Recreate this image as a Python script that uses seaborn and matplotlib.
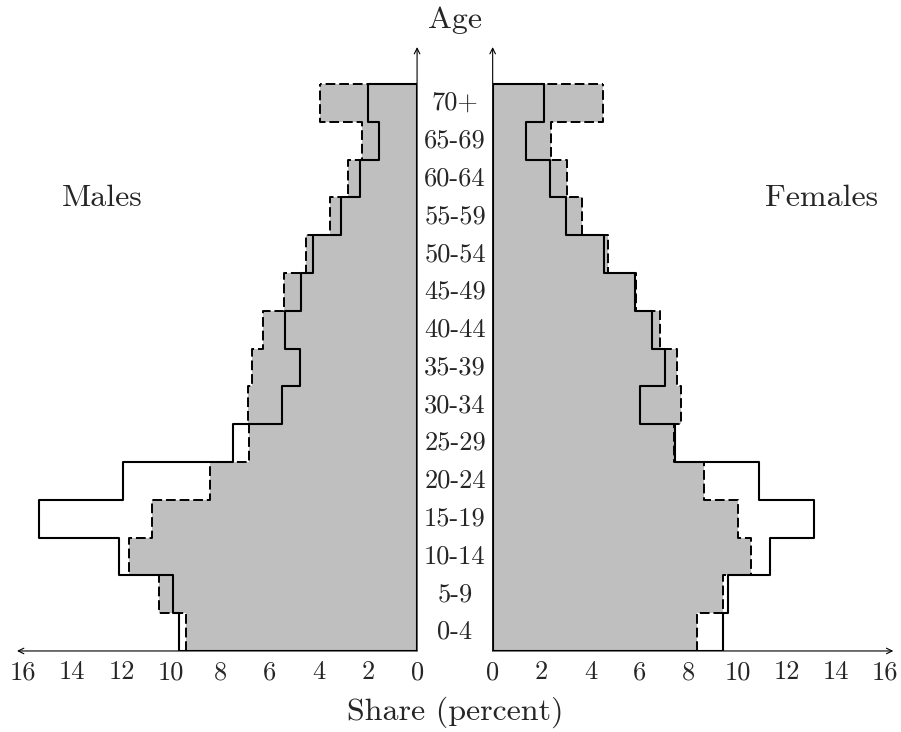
import numpy as np
import pandas as pd
import matplotlib
matplotlib.use("Agg")
import matplotlib.pyplot as plt
import matplotlib.transforms as mtransforms
import seaborn as sns

# age groups, bottom to top
age_groups = ["0-4", "5-9", "10-14", "15-19", "20-24", "25-29", "30-34",
              "35-39", "40-44", "45-49", "50-54", "55-59", "60-64", "65-69", "70+"]

# shaded series (dashed outline)
males_shaded = [9.38, 10.47, 11.70, 10.75, 8.41, 6.81, 6.87, 6.71, 6.24, 5.40,
                4.53, 3.55, 2.82, 2.24, 3.93]
females_shaded = [8.35, 9.39, 10.53, 10.02, 8.64, 7.40, 7.67, 7.51, 6.83, 5.84,
                  4.72, 3.63, 3.02, 2.37, 4.49]

# outline series (solid)
males_outline = [9.67, 9.90, 12.11, 15.35, 11.93, 7.46, 5.47, 4.75, 5.36, 4.71,
                 4.24, 3.09, 2.31, 1.56, 2.01]
females_outline = [9.39, 9.59, 11.32, 13.10, 10.88, 7.45, 6.01, 7.02, 6.52, 5.81,
                   4.56, 2.99, 2.34, 1.35, 2.11]

xticks = [0, 2, 4, 6, 8, 10, 12, 14, 16]

sns.set_style("white")
plt.rcParams["font.family"] = ["cmr10", "DejaVu Serif"]
plt.rcParams["axes.formatter.use_mathtext"] = True

FS = 19      # tick and age labels
FS_L = 23    # titles
GRAY = "#bfbfbf"
DASH = (0, (5, 2))

n = len(age_groups)
centers = np.arange(n) + 0.5

fig = plt.figure(figsize=(9.01, 7.32), dpi=100)
ax_m = fig.add_axes([0.0189, 0.1107, 0.4440, 0.8250])
ax_f = fig.add_axes([0.5468, 0.1107, 0.4446, 0.8250])

ytop = 15.98


def draw_side(ax, shaded, outline):
    df = pd.DataFrame({"age": centers, "shaded": shaded, "outline": outline})
    hist_kws = dict(data=df, y="age", binwidth=1, binrange=(0, n),
                    element="step", ax=ax)
    sns.histplot(weights="shaded", fill=True, color=GRAY, alpha=1,
                 linewidth=0, **hist_kws)
    sns.histplot(weights="shaded", fill=False, color="black", linewidth=1.4,
                 linestyle=DASH, **hist_kws)
    sns.histplot(weights="outline", fill=False, color="black", linewidth=1.5,
                 **hist_kws)
    # close the shapes at top and bottom
    ax.plot([0, shaded[-1]], [n, n], color="black", lw=1.4, ls=DASH)
    ax.plot([0, shaded[0]], [0, 0], color="black", lw=1.4, ls=DASH)
    ax.plot([0, outline[-1]], [n, n], color="black", lw=1.5)
    ax.plot([0, outline[0]], [0, 0], color="black", lw=1.5)
    ax.plot([0, 0], [0, n], color="black", lw=1.5)

    ax.set_ylim(0, ytop)
    for s in ax.spines.values():
        s.set_visible(False)
    ax.set_yticks([])
    ax.set_xticks(xticks)
    ax.set_xticklabels([str(t) for t in xticks], fontsize=FS)
    ax.tick_params(axis="x", length=0, pad=7)
    ax.set_xlabel("")
    ax.set_ylabel("")


draw_side(ax_m, males_shaded, males_outline)
draw_side(ax_f, females_shaded, females_outline)
ax_m.set_xlim(16.25, 0)
ax_f.set_xlim(0, 16.35)

arrow = dict(arrowstyle="->", lw=0.8, color="black", shrinkA=0, shrinkB=0)
# horizontal axes
ax_m.annotate("", xy=(0, 0), xytext=(1, 0), xycoords="axes fraction", arrowprops=arrow)
ax_f.annotate("", xy=(1, 0), xytext=(0, 0), xycoords="axes fraction", arrowprops=arrow)
# vertical axes
ax_m.annotate("", xy=(1, 1), xytext=(1, 0), xycoords="axes fraction", arrowprops=arrow)
ax_f.annotate("", xy=(0, 1), xytext=(0, 0), xycoords="axes fraction", arrowprops=arrow)

# age labels in the middle column
trans = mtransforms.blended_transform_factory(fig.transFigure, ax_f.transData)
for c, lab in zip(centers, age_groups):
    ax_f.text(0.505, c, lab, transform=trans, ha="center", va="center",
              fontsize=FS, clip_on=False)

fig.text(0.505, 1 - 20 / 732, "Age", ha="center", va="center", fontsize=FS_L)
fig.text(102 / 901, 1 - 198 / 732, "Males", ha="center", va="center", fontsize=FS_L)
fig.text(822 / 901, 1 - 198 / 732, "Females", ha="center", va="center", fontsize=FS_L)
fig.text(0.505, 1 - 712 / 732, "Share (percent)", ha="center", va="center", fontsize=FS_L)

fig.savefig("out.png", dpi=100)
